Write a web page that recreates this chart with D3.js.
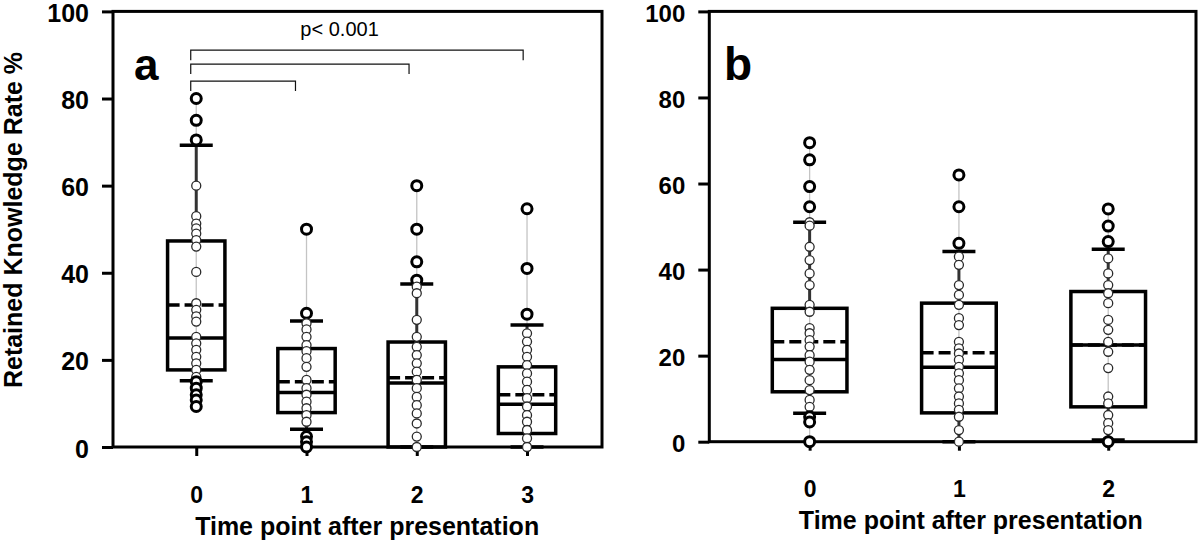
<!DOCTYPE html>
<html>
<head>
<meta charset="utf-8">
<script src="https://cdn.jsdelivr.net/npm/d3@7"></script>
<style>
  body { margin: 0; background: #fff; }
  svg text { font-family: "Liberation Sans", Arial, sans-serif; }
</style>
</head>
<body>
<svg id="chart" width="1200" height="542"></svg>
<script>
// ---- data ----
const yTicks = [0, 20, 40, 60, 80, 100];

// panel a : time points 0..3
const catsA = [0, 1, 2, 3];
const q1A   = [17.7, 7.9, 0, 3.1];
const medA  = [25, 12.5, 14.7, 9.8];
const q3A   = [47.3, 22.6, 24.1, 18.4];
const meanA = [32.6, 15, 15.9, 12];
const loA   = [15.2, 4.1, 0, 0];
const hiA   = [69.3, 28.9, 37.4, 28];
const pointsA = [
    [80, 75, 70.5, 60, 53, 51.3, 50.2, 49, 47.5, 46, 40.2, 33, 31.5, 30, 28.8, 25.3, 23.8, 22.3, 20.7, 19.2, 17.7, 16.1, 15, 13.5, 12, 10.8, 9.3],
    [50, 30.7, 28.4, 27, 25.3, 23.4, 22, 20.4, 18.4, 15.4, 13.5, 12, 10.4, 8.9, 7.3, 5.8, 2.4, 1.2, 0],
    [60, 50, 42.5, 38.3, 36.8, 35.3, 29.2, 25.3, 23, 21.1, 19.2, 17.3, 15.4, 13.5, 11.5, 9.6, 7.7, 5.4, 2.4, 0],
    [54.7, 41, 30.5, 26.1, 24.2, 22.3, 20.7, 18.8, 16.9, 15, 13.1, 11.2, 9.3, 7.3, 5.8, 3.9, 2, 0]
];
// significance brackets (from time point 0 to ...)
const bracketTo    = [0.9, 1.93, 2.965];
const bracketLevel = [84, 87.9, 91.1];
const pLabel = "p< 0.001";

// panel b : time points 0..2
const catsB = [0, 1, 2];
const q1B   = [11.6, 6.7, 8.1];
const medB  = [19.1, 17.3, 22.5];
const q3B   = [31, 32.2, 34.9];
const meanB = [23.2, 20.7, 22.5];
const loB   = [6.6, 0, 0.4];
const hiB   = [51, 44.2, 44.7];
const pointsB = [
    [69.5, 65.5, 59.3, 54.6, 51, 50.2, 45.3, 42.2, 39.1, 36.4, 31.8, 30.2, 26.4, 25.2, 23.6, 22.1, 20.1, 18.6, 16.7, 14.3, 12, 9.7, 8.1, 5.8, 4.6, 0],
    [62, 54.6, 46.1, 43, 41.1, 36.4, 34.1, 31.8, 28.7, 27.1, 23.2, 21.7, 20.5, 19, 17.4, 15.9, 14.3, 12.4, 10.5, 8.9, 7.4, 5.8, 2.7, 0],
    [54.1, 50.1, 46.5, 42.6, 39.1, 36.4, 34.5, 32.2, 28.3, 26, 23.2, 20.9, 17.1, 10.5, 8.9, 6.2, 4.3, 2.7, 0]
];

const svg = d3.select("#chart");

function drawPanel(cfg) {
    const g = svg.append("g");
    const x = d3.scaleLinear().domain(cfg.xDomain).range([cfg.left, cfg.right]);
    const y = d3.scaleLinear().domain([0, 100]).range([cfg.bottom, cfg.top]);
    const step = x(1) - x(0);
    const boxW = step * cfg.boxFrac;
    const capW = 33;

    // y axis
    const yAxis = g.append("g")
        .attr("transform", `translate(${cfg.left},0)`)
        .call(d3.axisLeft(y).tickValues(yTicks).tickSize(11).tickPadding(13));
    yAxis.select(".domain").remove();
    yAxis.selectAll("line").attr("stroke", "#000").attr("stroke-width", 3);
    yAxis.selectAll("text")
        .attr("fill", "#000")
        .attr("dy", "0.4em")
        .style("font-size", cfg.yTickSize + "px")
        .style("font-weight", "bold");

    // x axis
    const xAxis = g.append("g")
        .attr("transform", `translate(0,${cfg.bottom})`)
        .call(d3.axisBottom(x).tickValues(cfg.cats).tickFormat(d3.format("d")).tickSize(9).tickPadding(cfg.xPad));
    xAxis.select(".domain").remove();
    xAxis.selectAll("line").attr("stroke", "#000").attr("stroke-width", 3);
    xAxis.selectAll("text")
        .attr("fill", "#000")
        .style("font-size", "23px")
        .style("font-weight", "bold");

    // frame
    g.append("rect")
        .attr("x", cfg.left).attr("y", cfg.top)
        .attr("width", cfg.right - cfg.left).attr("height", cfg.bottom - cfg.top)
        .attr("fill", "none").attr("stroke", "#000").attr("stroke-width", 3);

    cfg.cats.forEach((c, i) => {
        const cx = x(c);
        const pts = cfg.points[i];
        const bg = g.append("g");
        const isOut = d => d > cfg.hi[i] || d < cfg.lo[i];

        // thin range line
        bg.append("line")
            .attr("x1", cx).attr("x2", cx)
            .attr("y1", y(d3.min(pts))).attr("y2", y(d3.max(pts)))
            .attr("stroke", "#c4c4c4").attr("stroke-width", 1.3);

        // whiskers
        [[cfg.q3[i], cfg.hi[i]], [cfg.q1[i], cfg.lo[i]]].forEach(([a, b]) => {
            if (a === b) return;
            bg.append("line")
                .attr("x1", cx).attr("x2", cx)
                .attr("y1", y(a)).attr("y2", y(b))
                .attr("stroke", "#333").attr("stroke-width", 3);
        });

        // box
        bg.append("rect")
            .attr("x", cx - boxW / 2).attr("width", boxW)
            .attr("y", y(cfg.q3[i])).attr("height", y(cfg.q1[i]) - y(cfg.q3[i]))
            .attr("fill", "none").attr("stroke", "#000").attr("stroke-width", 3.5);

        // median
        bg.append("line")
            .attr("x1", cx - boxW / 2).attr("x2", cx + boxW / 2)
            .attr("y1", y(cfg.med[i])).attr("y2", y(cfg.med[i]))
            .attr("stroke", "#000").attr("stroke-width", 3.5);

        // mean (dashed)
        bg.append("line")
            .attr("x1", cx - boxW / 2).attr("x2", cx + boxW / 2)
            .attr("y1", y(cfg.mean[i])).attr("y2", y(cfg.mean[i]))
            .attr("stroke", "#000").attr("stroke-width", 3.5)
            .attr("stroke-dasharray", "12,5");

        // caps
        [cfg.hi[i], cfg.lo[i]].forEach(v => {
            bg.append("line")
                .attr("x1", cx - capW / 2).attr("x2", cx + capW / 2)
                .attr("y1", y(v)).attr("y2", y(v))
                .attr("stroke", "#000").attr("stroke-width", 3.5);
        });

        // points: outliers drawn bold
        bg.selectAll(".pt")
            .data(pts)
            .enter().append("circle")
            .attr("cx", cx)
            .attr("cy", d => y(d))
            .attr("r", d => isOut(d) ? 5 : 4.5)
            .attr("fill", "#fff")
            .attr("stroke", d => isOut(d) ? "#000" : "#2a2a2a")
            .attr("stroke-width", d => isOut(d) ? 3 : 1.3);
    });

    // panel letter
    g.append("text")
        .attr("x", cfg.letterX).attr("y", 79.5)
        .style("font-size", cfg.letterSize + "px")
        .style("font-weight", "bold")
        .text(cfg.letter);

    // x label
    g.append("text")
        .attr("x", x(cfg.xLabelAt)).attr("y", cfg.xLabelY)
        .attr("text-anchor", "middle")
        .style("font-size", "25px")
        .style("font-weight", "bold")
        .text("Time point after presentation");

    return { g, x, y };
}

// panel a
const pa = drawPanel({
    left: 113, right: 602, top: 11.4, bottom: 447,
    xDomain: [-0.755, 3.68], boxFrac: 0.52,
    cats: catsA, q1: q1A, med: medA, q3: q3A, mean: meanA, lo: loA, hi: hiA, points: pointsA,
    yTickSize: 25, xPad: 31, letter: "a", letterX: 134, letterSize: 44,
    xLabelAt: 1.55, xLabelY: 535
});

// brackets on panel a
bracketTo.forEach((t, i) => {
    const lv = pa.y(bracketLevel[i]);
    const x0 = pa.x(-0.05), x1 = pa.x(t);
    pa.g.append("path")
        .attr("d", `M${x0},${lv + 10}V${lv}H${x1}V${lv + 10}`)
        .attr("fill", "none").attr("stroke", "#111").attr("stroke-width", 1.2);
});
pa.g.append("text")
    .attr("x", pa.x(1.3)).attr("y", 36)
    .attr("text-anchor", "middle")
    .style("font-size", "20px")
    .text(pLabel);

// y label
svg.append("text")
    .attr("transform", "translate(22,220) rotate(-90)")
    .attr("text-anchor", "middle")
    .style("font-size", "25px")
    .style("font-weight", "bold")
    .text("Retained Knowledge Rate %");

// panel b
drawPanel({
    left: 709.3, right: 1196, top: 11.4, bottom: 441.7,
    xDomain: [-0.672, 2.588], boxFrac: 0.5,
    cats: catsB, q1: q1B, med: medB, q3: q3B, mean: meanB, lo: loB, hi: hiB, points: pointsB,
    yTickSize: 24, xPad: 30, letter: "b", letterX: 724, letterSize: 46,
    xLabelAt: 1.08, xLabelY: 529
});
</script>
</body>
</html>
